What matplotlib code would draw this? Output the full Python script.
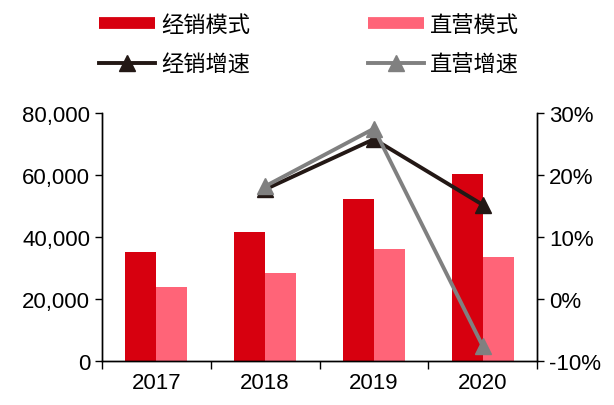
import matplotlib
matplotlib.use("Agg")
import matplotlib.pyplot as plt
from matplotlib.lines import Line2D
import numpy as np

plt.rcParams['font.family'] = ['Liberation Sans', 'Noto Sans CJK SC', 'DejaVu Sans']

# 数据
years = ['2017', '2018', '2019', '2020']
jingxiao = [35200, 41500, 52400, 60400]
zhiying = [24000, 28500, 36300, 33500]
jingxiao_growth = [None, 17.7, 25.8, 15.2]
zhiying_growth = [None, 18.2, 27.5, -7.6]

c_jx = '#D7000F'
c_zy = '#FF6478'
c_jxg = '#231815'
c_zyg = '#808080'

fig = plt.figure(figsize=(6.14, 4.06), dpi=100)
ax = fig.add_axes([0.166, 0.108, 0.709, 0.611])
ax2 = ax.twinx()

x = np.arange(len(years))
w = 0.285
ax.bar(x - w / 2, jingxiao, w, color=c_jx)
ax.bar(x + w / 2, zhiying, w, color=c_zy)

gx = x[1:]
l1, = ax2.plot(gx, jingxiao_growth[1:], color=c_jxg, lw=2.8, marker='^',
               markersize=11, label='经销增速')
l2, = ax2.plot(gx, zhiying_growth[1:], color=c_zyg, lw=2.8, marker='^',
               markersize=11, label='直营增速')

ax.set_xlim(-0.5, 3.5)
ax.set_ylim(0, 80000)
ax.set_yticks([0, 20000, 40000, 60000, 80000])
ax.set_yticklabels(['0', '20,000', '40,000', '60,000', '80,000'])
ax2.set_ylim(-10, 30)
ax2.set_yticks([-10, 0, 10, 20, 30])
ax2.set_yticklabels(['-10%', '0%', '10%', '20%', '30%'])

ax.set_xticks(x)
ax.set_xticklabels(years)
ax.set_xticks(np.arange(-0.5, 4, 1), minor=True)
ax.tick_params(axis='x', which='major', length=0, labelsize=16, pad=8)
ax.tick_params(axis='x', which='minor', length=6, width=1)
ax.tick_params(axis='y', length=5, width=1, labelsize=16)
ax2.tick_params(axis='y', length=5, width=1, labelsize=16)

for a in (ax, ax2):
    a.spines['top'].set_visible(False)
    for s in a.spines.values():
        s.set_linewidth(1)

# 图例（柱形用粗线代替，高度更接近原图）
p1 = Line2D([], [], color=c_jx, lw=8.5, solid_capstyle='butt', label='经销模式')
p2 = Line2D([], [], color=c_zy, lw=8.5, solid_capstyle='butt', label='直营模式')
handles = [p1, l1, p2, l2]
fig.legend(handles, [h.get_label() for h in handles], loc='upper left',
           bbox_to_anchor=(0.129, 1.015), ncol=2, frameon=False,
           columnspacing=5.3, handlelength=2.5, handletextpad=0.3,
           labelspacing=0.75, prop={'family': ['Noto Sans CJK SC'], 'size': 16})

fig.savefig('out.png', dpi=100)
